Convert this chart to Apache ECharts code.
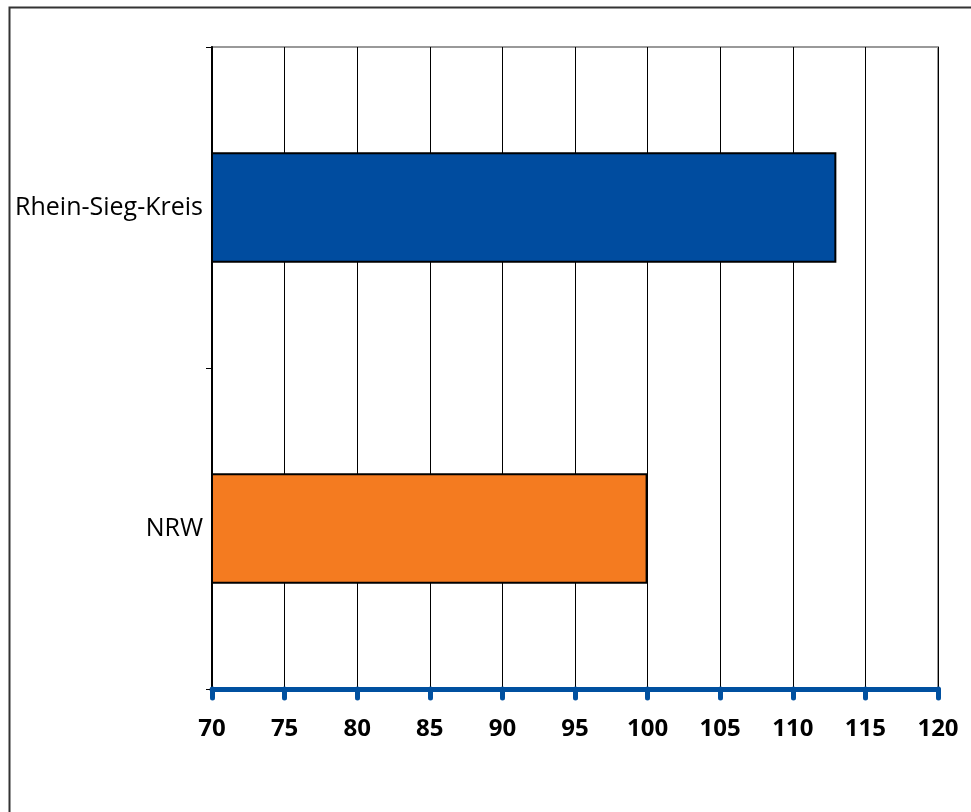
<!DOCTYPE html>
<html><head><meta charset="utf-8">
<script src="https://cdn.jsdelivr.net/npm/echarts@6/dist/echarts.min.js"></script>
<style>html,body{margin:0;padding:0;background:#fff}#c{width:971px;height:812px}</style>
</head><body><div id="c"></div>
<script>
const categories = ['Rhein-Sieg-Kreis', 'NRW'];
const values = [113, 100];
const barColors = ['#004C9F', '#F47B20'];
const xMin = 70, xMax = 120, xStep = 5;

const chart = echarts.init(document.getElementById('c'));
chart.setOption({
  animation: false,
  backgroundColor: '#fff',
  graphic: [{
    type: 'rect', left: 7, top: 5, shape: { width: 1000, height: 900 },
    style: { fill: 'none', stroke: '#333', lineWidth: 2 }, z: 100
  }],
  grid: { left: 212, right: 33, top: 47, bottom: 123, show: true, borderColor: '#999', borderWidth: 2, backgroundColor: 'transparent' },
  xAxis: {
    type: 'value', min: xMin, max: xMax, interval: xStep,
    axisLine: { show: true, lineStyle: { color: '#0050A0', width: 5 } },
    axisTick: { show: true, length: 9, lineStyle: { color: '#0050A0', width: 5, cap: 'round' } },
    axisLabel: { color: '#000', fontSize: 24, fontWeight: 'bold', fontFamily: 'Open Sans', margin: 28 },
    splitLine: { show: true, lineStyle: { color: '#000', width: 1 } }
  },
  yAxis: {
    type: 'category', data: categories, inverse: true,
    axisLine: { show: true, lineStyle: { color: '#000', width: 2 } },
    axisTick: { show: true, length: 6, lineStyle: { color: '#000', width: 1 } },
    axisLabel: { color: '#000', fontSize: 25, fontFamily: 'Open Sans', margin: 9 },
    splitLine: { show: false }
  },
  series: [{
    type: 'bar', barWidth: '34.5%',
    data: values.map((v, i) => ({ value: v, itemStyle: { color: barColors[i] } })),
    itemStyle: { borderColor: '#000', borderWidth: 2 }
  }]
});
</script></body></html>
